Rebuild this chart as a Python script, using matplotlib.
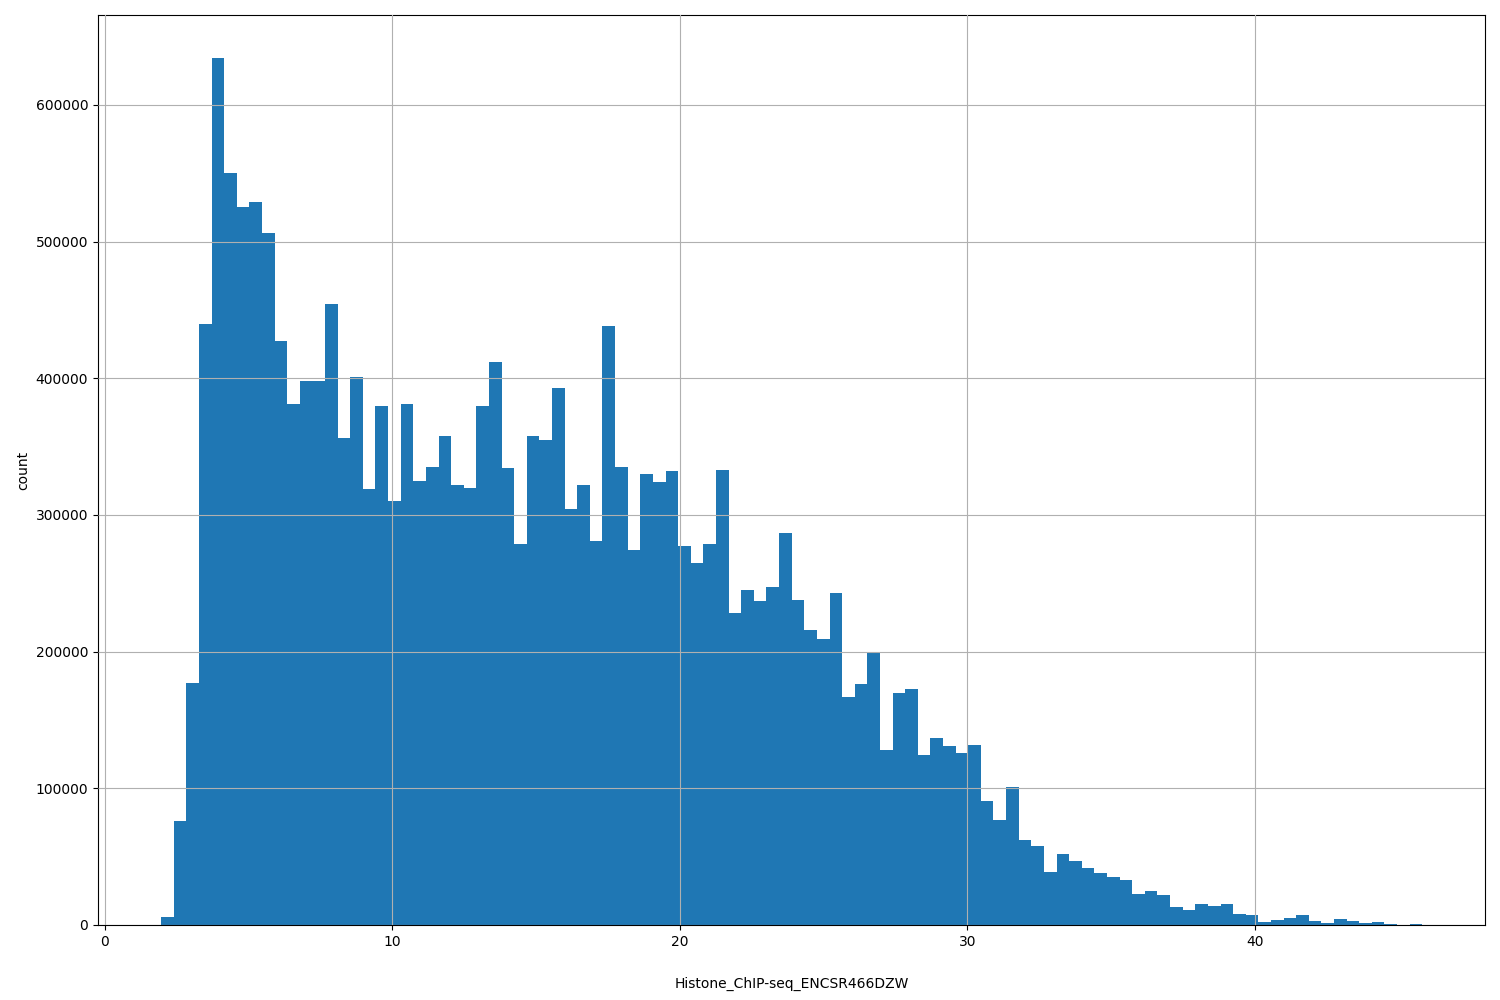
import numpy as np
import matplotlib
matplotlib.use("Agg")
import matplotlib.pyplot as plt

x_min, x_max, n_bins = 1.95, 45.82, 100
counts = [6000,76000,177000,440000,634000,550000,525000,529000,506000,427000,
381000,398000,398000,454000,356000,401000,319000,380000,310000,381000,
325000,335000,358000,322000,320000,380000,412000,334000,279000,358000,
355000,393000,304000,322000,281000,438000,335000,274000,330000,324000,
332000,277000,265000,279000,333000,228000,245000,237000,247000,287000,
238000,216000,209000,243000,167000,176000,199000,128000,170000,173000,
124000,137000,131000,126000,132000,91000,77000,101000,62000,58000,
39000,52000,47000,42000,38000,35000,33000,23000,25000,22000,
13000,11000,15000,14000,15000,8000,7000,2000,4000,5000,
7000,3000,1500,4500,3000,1500,2000,500,300,1000]

edges = np.linspace(x_min, x_max, n_bins + 1)
fig = plt.figure(figsize=(15, 10), dpi=100)
ax = fig.add_axes([98/1500, 75/1000, 1387/1500, 910/1000])
ax.hist(edges[:-1], bins=edges, weights=counts, color="#1f77b4")
ax.set_xlim(-0.243, 48.0)
ax.grid(True)
ax.set_axisbelow(False)
ax.set_xlabel("Histone_ChIP-seq_ENCSR466DZW", labelpad=20)
ax.set_ylabel("count")
fig.savefig("out.png")
